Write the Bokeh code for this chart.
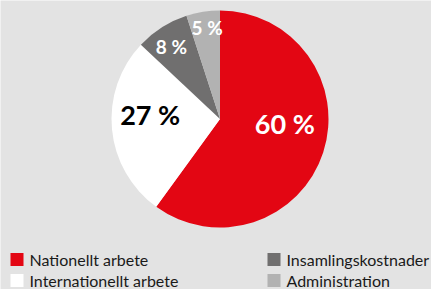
import math
from bokeh.plotting import figure
from bokeh.models import Range1d, ColumnDataSource
from bokeh.core.properties import value
from bokeh.embed import file_html
from bokeh.resources import INLINE

# ---- data ----
categories = ["Nationellt arbete", "Internationellt arbete", "Insamlingskostnader", "Administration"]
shares = [60, 27, 8, 5]
pct_labels = ["60 %", "27 %", "8 %", "5 %"]

# ---- styles / layout ----
slice_colors = ["#e30613", "#ffffff", "#706f6f", "#b2b2b2"]
label_colors = ["#ffffff", "#000000", "#ffffff", "#ffffff"]
label_sizes = ["27px", "27px", "19px", "19px"]
label_angle_deg = [-4, 176, 124, 98]
label_radius = [65, 70, 87, 92]
BG = "#e3e3e3"
W, H = 431, 289
CX, CY, R = 219.5, -118.5, 108.5
legend_col_x = [10, 267]
legend_row_y = [-259, -280]
FONT = "Lato"

total = sum(shares)
starts, ends, lx, ly = [], [], [], []
cum = 0
for i, s in enumerate(shares):
    a_end = math.radians(90 - cum / total * 360)
    cum += s
    a_start = math.radians(90 - cum / total * 360)
    starts.append(a_start)
    ends.append(a_end)
    a = math.radians(label_angle_deg[i])
    lx.append(CX + label_radius[i] * math.cos(a))
    ly.append(CY + label_radius[i] * math.sin(a))

pie = ColumnDataSource(dict(start=starts, end=ends, color=slice_colors,
                            lx=lx, ly=ly, text=pct_labels, tcolor=label_colors, tsize=label_sizes))

p = figure(width=W, height=H, x_range=Range1d(0, W), y_range=Range1d(-H, 0),
           output_backend="svg", toolbar_location=None, min_border=0,
           background_fill_color=BG, border_fill_color=BG, outline_line_color=None)
p.axis.visible = False
p.grid.visible = False

p.wedge(x=CX, y=CY, radius=R, start_angle="start", end_angle="end", direction="anticlock",
        fill_color="color", line_color=None, source=pie)
p.text(x="lx", y="ly", text="text", text_color="tcolor", text_font_size="tsize",
       text_font=value(FONT), text_font_style="bold", text_align="center",
       text_baseline="middle", source=pie)

# legend
sx, sy, tx = [], [], []
for i in range(len(categories)):
    col = i // 2
    row = i % 2
    sx.append(legend_col_x[col] + 6.5)
    sy.append(legend_row_y[row])
    tx.append(legend_col_x[col] + 19)
leg = ColumnDataSource(dict(sx=sx, sy=sy, tx=tx, color=slice_colors, text=categories))
p.rect(x="sx", y="sy", width=13, height=13, fill_color="color", line_color=None, source=leg)
p.text(x="tx", y="sy", text="text", text_color="#1a1a1a", text_font_size="16px",
       text_font=value(FONT), text_align="left", text_baseline="middle", source=leg)

html = file_html(p, INLINE)
open("out.html", "w").write(html)
